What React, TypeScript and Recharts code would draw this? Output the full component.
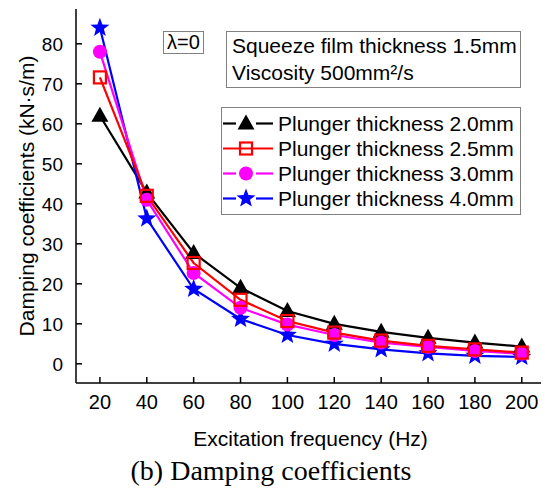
import React from 'react';
import { LineChart, Line, XAxis, YAxis, Legend, Label } from 'recharts';

const freq = [20, 40, 60, 80, 100, 120, 140, 160, 180, 200];
const plunger20 = [62, 42.8, 27.7, 19, 13.2, 10, 8, 6.5, 5.3, 4.3];
const plunger25 = [71.6, 42, 25.2, 16, 10.7, 7.8, 5.8, 4.5, 3.6, 2.8];
const plunger30 = [78, 41, 22.7, 14, 9.8, 7.2, 5.3, 4.2, 3.2, 2.5];
const plunger40 = [84, 36.3, 18.7, 11.2, 7.2, 5, 3.6, 2.6, 2, 1.7];
const xTicks = [20, 40, 60, 80, 100, 120, 140, 160, 180, 200];
const yTicks = [0, 10, 20, 30, 40, 50, 60, 70, 80];

const data = freq.map((f, i) => ({
  freq: f,
  p20: plunger20[i],
  p25: plunger25[i],
  p30: plunger30[i],
  p40: plunger40[i],
}));

const FONT = '"Liberation Sans", Arial, sans-serif';

type Shape = 'triangle' | 'square' | 'circle' | 'star';

const series: { key: string; name: string; color: string; shape: Shape; gap: boolean }[] = [
  { key: 'p20', name: 'Plunger thickness 2.0mm', color: '#000000', shape: 'triangle', gap: true },
  { key: 'p25', name: 'Plunger thickness 2.5mm', color: '#ff0000', shape: 'square', gap: false },
  { key: 'p30', name: 'Plunger thickness 3.0mm', color: '#ff00ff', shape: 'circle', gap: true },
  { key: 'p40', name: 'Plunger thickness 4.0mm', color: '#0000ff', shape: 'star', gap: true },
];
// draw order so the red squares end up on top
const drawOrder = ['p20', 'p40', 'p30', 'p25'];

const starPoints = (cx: number, cy: number, ro: number, ri: number) => {
  const pts: string[] = [];
  for (let i = 0; i < 10; i++) {
    const r = i % 2 === 0 ? ro : ri;
    const a = -Math.PI / 2 + (i * Math.PI) / 5;
    pts.push(`${cx + r * Math.cos(a)},${cy + r * Math.sin(a)}`);
  }
  return pts.join(' ');
};

const Marker = ({ shape, cx, cy, color }: { shape: Shape; cx: number; cy: number; color: string }) => {
  if (shape === 'triangle') {
    return <polygon points={`${cx},${cy - 9} ${cx - 8.5},${cy + 6} ${cx + 8.5},${cy + 6}`} fill={color} />;
  }
  if (shape === 'square') {
    return <rect x={cx - 6} y={cy - 6} width={12} height={12} fill="none" stroke={color} strokeWidth={2.2} />;
  }
  if (shape === 'circle') {
    return <circle cx={cx} cy={cy} r={7} fill={color} />;
  }
  return <polygon points={starPoints(cx, cy, 10, 4.2)} fill={color} />;
};

const makeDot = (shape: Shape, color: string) => (props: any) => {
  const { cx, cy, index } = props;
  if (cx == null || cy == null) return <g key={index} />;
  return (
    <g key={`${shape}-${index}`}>
      <Marker shape={shape} cx={cx} cy={cy} color={color} />
    </g>
  );
};

const XTick = (props: any) => {
  const { x, y, payload } = props;
  return (
    <g>
      <line x1={x} y1={y} x2={x} y2={y - 6} stroke="#000" strokeWidth={1.5} />
      <text x={x} y={y + 26} textAnchor="middle" fontSize={20} fontFamily={FONT} fill="#000">
        {payload.value}
      </text>
    </g>
  );
};

const YTick = (props: any) => {
  const { x, y, payload } = props;
  return (
    <g>
      <line x1={x} y1={y} x2={x + 6} y2={y} stroke="#000" strokeWidth={1.5} />
      <text x={x - 13} y={y + 7} textAnchor="end" fontSize={19} fontFamily={FONT} fill="#000">
        {payload.value}
      </text>
    </g>
  );
};

const LegendBox = () => (
  <div
    style={{
      width: 300,
      height: 108,
      boxSizing: 'border-box',
      border: '1px solid #808080',
      background: '#fff',
      paddingTop: 3,
      fontFamily: FONT,
      fontSize: 21,
    }}
  >
    {series.map((s) => (
      <div key={s.key} style={{ display: 'flex', alignItems: 'center', height: 25 }}>
        <svg width={56} height={25} style={{ flex: 'none' }}>
          {s.gap ? (
            <>
              <line x1={1} y1={12.5} x2={14} y2={12.5} stroke={s.color} strokeWidth={2.2} />
              <line x1={34} y1={12.5} x2={51} y2={12.5} stroke={s.color} strokeWidth={2.2} />
            </>
          ) : (
            <line x1={1} y1={12.5} x2={51} y2={12.5} stroke={s.color} strokeWidth={2.2} />
          )}
          <Marker shape={s.shape} cx={24} cy={12.5} color={s.color} />
        </svg>
        <span style={{ color: '#000', whiteSpace: 'nowrap' }}>{s.name}</span>
      </div>
    ))}
  </div>
);

const YLabel = () => {
  const cx = 26;
  const cy = 196;
  return (
    <text
      x={cx}
      y={cy}
      transform={`rotate(-90 ${cx} ${cy})`}
      textAnchor="middle"
      dominantBaseline="central"
      fontSize={21}
      fontFamily={FONT}
      fill="#000"
    >
      Damping coefficients (kN·s/m)
    </text>
  );
};

const XLabel = (props: any) => {
  const { viewBox } = props;
  return (
    <text
      x={viewBox.x + viewBox.width / 2 + 2}
      y={viewBox.y + 63}
      textAnchor="middle"
      fontSize={21}
      fontFamily={FONT}
      fill="#000"
    >
      Excitation frequency (Hz)
    </text>
  );
};

export default function App() {
  return (
    <div style={{ position: 'absolute', left: 0, top: 0, width: 545, height: 488, background: '#fff' }}>
      <LineChart width={545} height={488} data={data} margin={{ top: 9, right: 4, bottom: 0, left: 0 }}>
        <XAxis
          dataKey="freq"
          type="number"
          domain={[9.8, 208.2]}
          ticks={xTicks}
          allowDataOverflow
          height={105}
          stroke="#000"
          strokeWidth={1.5}
          tickLine={false}
          tickSize={0}
          tickMargin={0}
          tick={<XTick />}
        >
          <Label content={<XLabel />} />
        </XAxis>
        <XAxis
          xAxisId="top"
          dataKey="freq"
          type="number"
          orientation="top"
          domain={[9.8, 208.2]}
          height={0}
          tick={false}
          tickLine={false}
          stroke="#000"
          strokeWidth={1.5}
        />
        <YAxis
          type="number"
          domain={[-4.8, 88.7]}
          ticks={yTicks}
          allowDataOverflow
          width={76}
          stroke="#000"
          strokeWidth={1.5}
          tickLine={false}
          tickSize={0}
          tickMargin={0}
          tick={<YTick />}
        >
          <Label content={<YLabel />} />
        </YAxis>
        <YAxis
          yAxisId="right"
          orientation="right"
          domain={[-4.8, 88.7]}
          width={0}
          tick={false}
          tickLine={false}
          stroke="#000"
          strokeWidth={1.5}
        />
        <Legend
          layout="vertical"
          align="center"
          verticalAlign="middle"
          content={<LegendBox />}
          wrapperStyle={{ left: 221, top: 107, width: 300, height: 108 }}
        />
        {drawOrder.map((k) => {
          const s = series.find((x) => x.key === k)!;
          return (
            <Line
              key={s.key}
              dataKey={s.key}
              name={s.name}
              stroke={s.color}
              strokeWidth={2.2}
              dot={makeDot(s.shape, s.color)}
              activeDot={false}
              isAnimationActive={false}
            />
          );
        })}
      </LineChart>
      <div
        style={{
          position: 'absolute',
          left: 163,
          top: 31,
          width: 41,
          height: 23,
          boxSizing: 'border-box',
          border: '1px solid #808080',
          fontFamily: FONT,
          fontSize: 20,
          lineHeight: '21px',
          textAlign: 'center',
        }}
      >
        λ=0
      </div>
      <div
        style={{
          position: 'absolute',
          left: 226,
          top: 31,
          width: 295,
          height: 57,
          boxSizing: 'border-box',
          border: '1px solid #808080',
          fontFamily: FONT,
          fontSize: 21,
          lineHeight: '27px',
          paddingLeft: 5,
          whiteSpace: 'nowrap',
        }}
      >
        <div>Squeeze film thickness 1.5mm</div>
        <div>Viscosity 500mm²/s</div>
      </div>
      <div
        style={{
          position: 'absolute',
          left: 0,
          top: 455,
          width: 542,
          textAlign: 'center',
          fontFamily: '"Liberation Serif", "Times New Roman", serif',
          fontSize: 28,
          lineHeight: '32px',
          color: '#000',
        }}
      >
        (b) Damping coefficients
      </div>
    </div>
  );
}
